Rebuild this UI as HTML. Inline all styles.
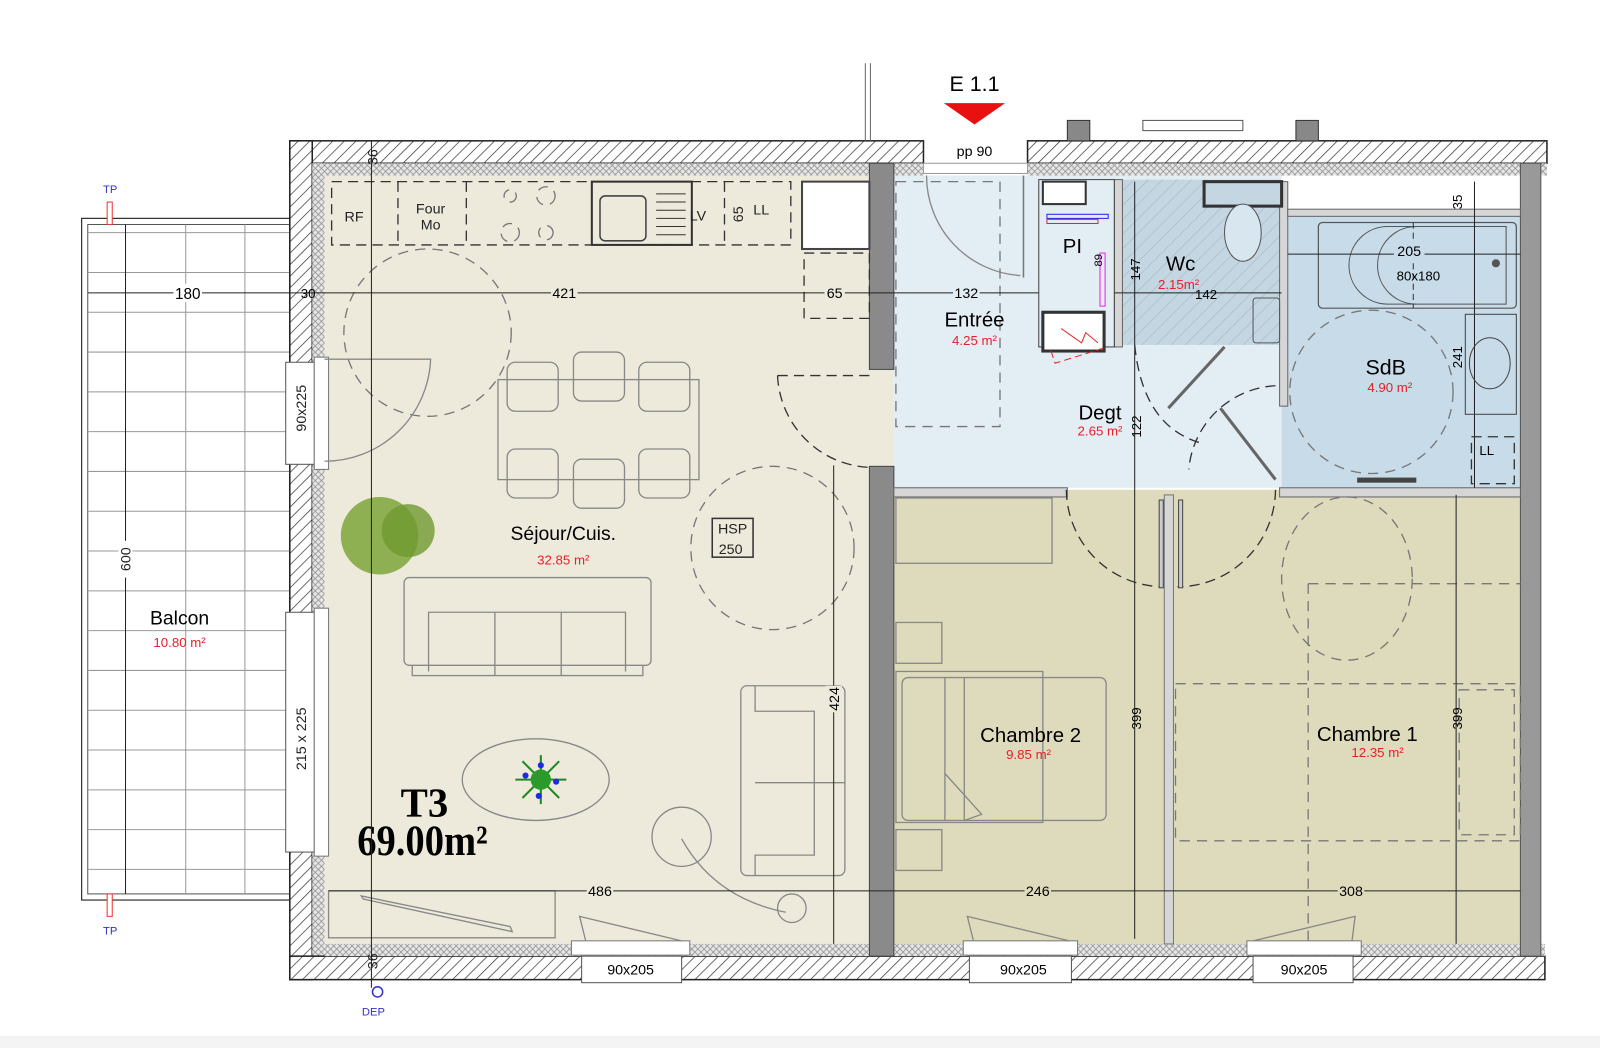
<!DOCTYPE html>
<html><head><meta charset="utf-8"><style>
html,body{margin:0;padding:0;background:#fff}
svg{display:block}
text{font-family:"Liberation Sans",sans-serif}
.d{font-size:14px;fill:#222}
.r{fill:#e8202a;font-size:13px}
.n{font-size:20px;fill:#111}
.f{fill:none;stroke:#888;stroke-width:1.3}
.ds{fill:none;stroke:#777;stroke-width:1.3;stroke-dasharray:10 7}
.dk{fill:none;stroke:#333;stroke-width:1.3;stroke-dasharray:10 6}
.dim{stroke:#222;stroke-width:1}
</style></head><body>
<svg width="1600" height="1048" viewBox="0 0 1568 1027" preserveAspectRatio="none" xmlns="http://www.w3.org/2000/svg">
<defs>
<pattern id="h" width="8" height="8" patternUnits="userSpaceOnUse" patternTransform="rotate(45)">
<rect width="8" height="8" fill="#fff"/><line x1="0" y1="0" x2="0" y2="8" stroke="#333" stroke-width="1.4"/></pattern>
<pattern id="x" width="6" height="6" patternUnits="userSpaceOnUse">
<rect width="6" height="6" fill="#e6e6e6"/><path d="M0 0L6 6M6 0L0 6" stroke="#888" stroke-width="0.7"/></pattern>
<pattern id="w" width="10" height="10" patternUnits="userSpaceOnUse" patternTransform="rotate(45)">
<rect width="10" height="10" fill="#c4d6e2"/><line x1="0" y1="0" x2="0" y2="10" stroke="#9fb2c0" stroke-width="1"/></pattern>
</defs>
<rect x="0" y="1015" width="1568" height="12" fill="#f4f4f4"/>

<!-- balcony -->
<rect x="80" y="214" width="204" height="668" fill="#fff" stroke="#333" stroke-width="1.2"/>
<rect x="86" y="220" width="198" height="656" fill="none" stroke="#555" stroke-width="1"/>
<g stroke="#999" stroke-width="1">
<line x1="182" y1="220" x2="182" y2="876"/><line x1="240" y1="220" x2="240" y2="876"/>
<line x1="86" y1="228" x2="284" y2="228"/><line x1="86" y1="267" x2="284" y2="267"/><line x1="86" y1="306" x2="284" y2="306"/><line x1="86" y1="345" x2="284" y2="345"/><line x1="86" y1="384" x2="284" y2="384"/><line x1="86" y1="423" x2="284" y2="423"/><line x1="86" y1="462" x2="284" y2="462"/><line x1="86" y1="501" x2="284" y2="501"/><line x1="86" y1="540" x2="284" y2="540"/><line x1="86" y1="579" x2="284" y2="579"/><line x1="86" y1="618" x2="284" y2="618"/><line x1="86" y1="657" x2="284" y2="657"/><line x1="86" y1="696" x2="284" y2="696"/><line x1="86" y1="735" x2="284" y2="735"/><line x1="86" y1="774" x2="284" y2="774"/><line x1="86" y1="813" x2="284" y2="813"/><line x1="86" y1="852" x2="284" y2="852"/>
</g>
<line x1="123" y1="220" x2="123" y2="876" class="dim" stroke-width="1.5"/>
<rect x="105" y="198" width="5" height="22" fill="#fff" stroke="#e33"/>
<rect x="105" y="876" width="5" height="22" fill="#fff" stroke="#e33"/>
<text x="108" y="189" font-size="11" fill="#33c" text-anchor="middle">TP</text>
<text x="108" y="916" font-size="11" fill="#33c" text-anchor="middle">TP</text>
<rect x="116" y="530" width="14" height="36" fill="#fff"/>
<text x="128" y="548" class="d" font-size="16" transform="rotate(-90 128 548)" text-anchor="middle">600</text>
<text x="176" y="612" font-size="19" text-anchor="middle">Balcon</text>
<text x="176" y="634" class="r" text-anchor="middle">10.80 m²</text>

<!-- floor fills -->
<rect x="318" y="172" width="536" height="754" fill="#edeadb"/>
<rect x="876" y="172" width="380" height="306" fill="#e3edf4"/>
<rect x="1256" y="210" width="234" height="268" fill="#c8dbe8"/>
<rect x="1100" y="176" width="156" height="162" fill="url(#w)"/>
<rect x="876" y="480" width="614" height="446" fill="#dedbbc"/>
<rect x="854" y="362" width="22" height="95" fill="#edeadb"/>

<!-- outer walls -->
<rect x="284" y="138" width="621" height="22" fill="url(#h)" stroke="#222" stroke-width="1.5"/>
<rect x="1007" y="138" width="509" height="22" fill="url(#h)" stroke="#222" stroke-width="1.5"/>
<rect x="306" y="160" width="599" height="12" fill="url(#x)"/>
<rect x="1007" y="160" width="509" height="12" fill="url(#x)"/>
<rect x="284" y="138" width="22" height="822" fill="url(#h)" stroke="#222" stroke-width="1.5"/>
<rect x="306" y="160" width="12" height="778" fill="url(#x)"/>
<rect x="284" y="937" width="1230" height="23" fill="url(#h)" stroke="#222" stroke-width="1.5"/>
<rect x="318" y="925" width="1196" height="12" fill="url(#x)"/>
<rect x="1046" y="118" width="22" height="20" fill="#888" stroke="#333"/>
<rect x="1270" y="118" width="22" height="20" fill="#888" stroke="#333"/>
<rect x="1120" y="118" width="98" height="10" fill="#fff" stroke="#555"/>
<line x1="848" y1="62" x2="848" y2="138" stroke="#666" stroke-width="1"/><line x1="853" y1="62" x2="853" y2="138" stroke="#666"/>
<!-- interior walls -->
<rect x="852" y="160" width="24" height="202" fill="#8a8a8a" stroke="#444"/>
<rect x="852" y="457" width="24" height="480" fill="#8a8a8a" stroke="#444"/>
<rect x="1490" y="160" width="20" height="777" fill="#999" stroke="#555"/>
<rect x="876" y="478" width="170" height="9" fill="#d6d6d6" stroke="#666"/>
<rect x="1254" y="478" width="236" height="9" fill="#d6d6d6" stroke="#666"/>
<rect x="1141" y="485" width="9" height="440" fill="#d6d6d6" stroke="#777"/>
<rect x="1092" y="176" width="8" height="164" fill="#d6d6d6" stroke="#666"/>
<rect x="1254" y="178" width="8" height="220" fill="#d6d6d6" stroke="#666"/>
<rect x="1262" y="205" width="228" height="7" fill="#d6d6d6" stroke="#666"/>
<rect x="786" y="178" width="66" height="66" fill="#fff" stroke="#444" stroke-width="2"/>
<!-- windows left -->
<rect x="280" y="355" width="28" height="100" fill="#fff" stroke="#555"/>
<rect x="308" y="350" width="14" height="110" fill="#fff" stroke="#777"/>
<text x="300" y="400" class="d" transform="rotate(-90 300 400)" text-anchor="middle">90x225</text>
<rect x="280" y="600" width="28" height="235" fill="#fff" stroke="#555"/>
<rect x="308" y="596" width="14" height="243" fill="#fff" stroke="#777"/>
<text x="300" y="724" class="d" transform="rotate(-90 300 724)" text-anchor="middle">215 x 225</text>
<!-- windows bottom -->
<g font-size="14" text-anchor="middle">
<rect x="570" y="937" width="98" height="26" fill="#fff" stroke="#555"/><rect x="560" y="922" width="116" height="14" fill="#fff" stroke="#777"/><text x="618" y="955">90x205</text>
<rect x="950" y="937" width="100" height="26" fill="#fff" stroke="#555"/><rect x="944" y="922" width="112" height="14" fill="#fff" stroke="#777"/><text x="1003" y="955">90x205</text>
<rect x="1228" y="937" width="98" height="26" fill="#fff" stroke="#555"/><rect x="1222" y="922" width="112" height="14" fill="#fff" stroke="#777"/><text x="1278" y="955">90x205</text>
</g>
<path d="M574 922L568 898L668 922" class="f" stroke="#444"/>
<path d="M954 922L948 898L1048 922" class="f" stroke="#444"/>
<path d="M1228 922L1328 898L1325 922" class="f" stroke="#444"/>

<!-- entrance -->
<text x="955" y="89" font-size="21" text-anchor="middle">E 1.1</text>
<path d="M925 101L985 101L955 122Z" fill="#e81010"/>
<text x="955" y="153" font-size="14" text-anchor="middle">pp 90</text>
<rect x="905" y="160" width="102" height="10" fill="#fff" stroke="#999"/>
<path d="M908 172 A98 98 0 0 0 1000 270" class="f"/>
<line x1="1003" y1="172" x2="1003" y2="272" stroke="#777" stroke-width="1.5"/>
<rect x="878" y="178" width="102" height="240" class="ds" stroke="#999"/>

<!-- kitchen -->
<rect x="325" y="178" width="450" height="62" class="dk"/>
<g class="dk"><line x1="390" y1="178" x2="390" y2="240"/><line x1="457" y1="178" x2="457" y2="240"/><line x1="710" y1="178" x2="710" y2="240"/></g>
<rect x="580" y="178" width="98" height="62" fill="none" stroke="#333" stroke-width="2"/>
<rect x="588" y="192" width="45" height="44" rx="5" fill="none" stroke="#444" stroke-width="1.5"/>
<g stroke="#333"><line x1="643" y1="190" x2="672" y2="190"/><line x1="643" y1="198" x2="672" y2="198"/><line x1="643" y1="206" x2="672" y2="206"/><line x1="643" y1="214" x2="672" y2="214"/><line x1="643" y1="222" x2="672" y2="222"/><line x1="643" y1="230" x2="672" y2="230"/></g>
<g class="ds"><circle cx="500" cy="192" r="6"/><circle cx="535" cy="192" r="9"/><circle cx="500" cy="228" r="9"/><circle cx="535" cy="228" r="7"/></g>
<text x="347" y="217" class="d" text-anchor="middle">RF</text>
<text x="422" y="209" class="d" text-anchor="middle">Four</text><text x="422" y="225" class="d" text-anchor="middle">Mo</text>
<text x="684" y="216" class="d" text-anchor="middle">LV</text>
<text x="746" y="210" class="d" text-anchor="middle">LL</text>
<text x="728" y="210" class="d" font-size="13" transform="rotate(-90 728 210)" text-anchor="middle">65</text>
<rect x="788" y="248" width="64" height="64" class="dk"/>
<circle cx="419" cy="326" r="82" class="ds" stroke="#999"/>
<path d="M318 452A104 104 0 0 0 422 352L318 352" class="f" stroke="#333"/>
<path d="M762 368L852 368M762 368A94 94 0 0 0 852 458" class="dk" stroke-dasharray="9 6"/>
<!-- dining -->
<rect x="488" y="372" width="197" height="98" class="f"/>
<g class="f"><rect x="497" y="355" width="50" height="48" rx="8"/><rect x="562" y="345" width="50" height="48" rx="8"/><rect x="626" y="355" width="50" height="48" rx="8"/><rect x="497" y="440" width="50" height="48" rx="8"/><rect x="562" y="450" width="50" height="48" rx="8"/><rect x="626" y="440" width="50" height="48" rx="8"/></g>
<circle cx="757" cy="537" r="80" class="ds" stroke="#999"/>
<rect x="698" y="508" width="40" height="38" fill="none" stroke="#333" stroke-width="1.5"/>
<text x="718" y="523" class="d" text-anchor="middle">HSP</text><text x="716" y="543" class="d" text-anchor="middle">250</text>
<!-- sofa -->
<rect x="396" y="566" width="242" height="86" rx="5" class="f"/>
<path d="M420 658V600H613V658M485 600V662M550 600V662M404 652V662H630V652" class="f"/>
<rect x="726" y="672" width="102" height="186" rx="6" class="f"/>
<path d="M740 672V697H798V838H740V858M740 767H828" class="f"/>
<ellipse cx="525" cy="764" rx="72" ry="40" class="f"/>
<g stroke="#1e8a1e" stroke-width="2"><line x1="505" y1="764" x2="555" y2="764"/><line x1="530" y1="740" x2="530" y2="788"/><line x1="512" y1="746" x2="548" y2="782"/><line x1="548" y1="746" x2="512" y2="782"/></g>
<circle cx="530" cy="764" r="10" fill="#2a9a2a"/>
<g fill="#1a2ee0"><circle cx="515" cy="760" r="3"/><circle cx="545" cy="766" r="3"/><circle cx="530" cy="750" r="3"/><circle cx="528" cy="780" r="3"/></g>
<circle cx="372" cy="525" r="38" fill="#7ea63a" opacity="0.85"/>
<circle cx="400" cy="520" r="26" fill="#6f9a30" opacity="0.8"/>
<circle cx="668" cy="820" r="29" class="f"/>
<circle cx="776" cy="890" r="14" class="f"/>
<path d="M668 822Q700 880 770 894" class="f"/>
<rect x="322" y="873" width="222" height="46" class="f"/>
<path d="M354 878L500 908L502 913L356 881Z" class="f"/>
<text x="552" y="529" font-size="19" text-anchor="middle">Séjour/Cuis.</text>
<text x="552" y="553" class="r" text-anchor="middle">32.85 m²</text>
<text x="416" y="800" style="font-family:'Liberation Serif',serif;font-weight:bold;font-size:40px" text-anchor="middle">T3</text>
<text x="414" y="838" style="font-family:'Liberation Serif',serif;font-weight:bold;font-size:42px" text-anchor="middle" transform="translate(414 0) scale(0.9 1) translate(-414 0)">69.00m²</text>
<!-- dims sejour -->
<line x1="364" y1="138" x2="364" y2="968" class="dim"/>
<text x="370" y="154" class="d" font-size="12" transform="rotate(-90 370 154)" text-anchor="middle">36</text>
<text x="370" y="942" class="d" font-size="12" transform="rotate(-90 370 942)" text-anchor="middle">36</text>
<circle cx="370" cy="972" r="5" fill="none" stroke="#33c" stroke-width="1.5"/>
<text x="366" y="995" font-size="11" fill="#33c" text-anchor="middle">DEP</text>
<line x1="86" y1="287" x2="1256" y2="287" class="dim"/>
<g font-size="15" text-anchor="middle"><rect x="170" y="278" width="28" height="18" fill="#fff"/><text x="184" y="293">180</text>
<text x="302" y="292" font-size="13">30</text>
<rect x="540" y="279" width="26" height="16" fill="#edeadb"/><text x="553" y="292" font-size="14">421</text>
<rect x="808" y="279" width="20" height="16" fill="#edeadb"/><text x="818" y="292" font-size="14">65</text>
<rect x="934" y="279" width="26" height="16" fill="#e3edf4"/><text x="947" y="292" font-size="14">132</text>
<rect x="1048" y="279" width="20" height="16" fill="#e3edf4"/><text x="1058" y="292" font-size="14">68</text>
</g>
<line x1="817" y1="456" x2="817" y2="925" class="dim"/>
<rect x="809" y="672" width="16" height="26" fill="#edeadb"/>
<text x="822" y="685" font-size="14" transform="rotate(-90 822 685)" text-anchor="middle">424</text>
<line x1="322" y1="873" x2="1490" y2="873" class="dim"/>
<rect x="575" y="865" width="26" height="16" fill="#edeadb"/><text x="588" y="878" font-size="14" text-anchor="middle">486</text>
<rect x="1004" y="865" width="26" height="16" fill="#dedbbc"/><text x="1017" y="878" font-size="14" text-anchor="middle">246</text>
<rect x="1311" y="865" width="26" height="16" fill="#dedbbc"/><text x="1324" y="878" font-size="14" text-anchor="middle">308</text>

<!-- PI / Wc -->
<rect x="1018" y="176" width="74" height="164" fill="#e3edf4" stroke="#444" stroke-width="1"/>
<rect x="1022" y="178" width="42" height="22" fill="#fff" stroke="#333" stroke-width="2"/>
<rect x="1022" y="306" width="60" height="38" fill="#fff" stroke="#333" stroke-width="3"/>
<path d="M1040 322L1060 336L1064 326L1076 336" stroke="#e22" fill="none"/>
<path d="M1030 344L1034 356L1085 340" stroke="#e22" fill="none" stroke-dasharray="7 4"/>
<rect x="1026" y="210" width="60" height="4" fill="none" stroke="#22e"/>
<rect x="1026" y="215" width="50" height="4" fill="none" stroke="#e22"/>
<rect x="1078" y="248" width="5" height="52" fill="none" stroke="#e2e"/>
<text x="1051" y="248" font-size="20" text-anchor="middle">PI</text>
<text x="1080" y="255" font-size="11" transform="rotate(-90 1080 255)" text-anchor="middle">89</text>
<rect x="1180" y="178" width="76" height="24" fill="#c4d6e2" stroke="#333" stroke-width="3"/>
<ellipse cx="1218" cy="228" rx="18" ry="28" fill="#d8e6ef" stroke="#555"/>
<rect x="1228" y="292" width="26" height="44" rx="3" fill="none" stroke="#555"/>
<text x="1157" y="265" font-size="20" text-anchor="middle">Wc</text>
<text x="1155" y="283" class="r" text-anchor="middle">2.15m²</text>
<text x="1182" y="293" font-size="13" text-anchor="middle">142</text>
<line x1="1112" y1="178" x2="1112" y2="920" class="dim"/>
<text x="1117" y="264" font-size="13" transform="rotate(-90 1117 264)" text-anchor="middle">147</text>
<text x="1118" y="418" font-size="13" transform="rotate(-90 1118 418)" text-anchor="middle">122</text>
<!-- Degt doors -->
<path d="M1112 338Q1120 420 1180 435" class="dk"/>
<line x1="1145" y1="400" x2="1200" y2="340" stroke="#666" stroke-width="3"/>
<path d="M1250 378A90 90 0 0 0 1165 460" class="dk"/>
<line x1="1196" y1="400" x2="1250" y2="470" stroke="#666" stroke-width="3"/>
<text x="1078" y="411" font-size="20" text-anchor="middle">Degt</text>
<text x="1078" y="427" class="r" text-anchor="middle">2.65 m²</text>
<text x="955" y="320" font-size="20" text-anchor="middle">Entrée</text>
<text x="955" y="338" class="r" text-anchor="middle">4.25 m²</text>

<!-- SdB -->
<rect x="1292" y="218" width="194" height="84" rx="4" fill="none" stroke="#555" stroke-width="1.2"/>
<path d="M1360 222H1476V298H1360A38 38 0 0 1 1360 222Z" fill="none" stroke="#555"/>
<path d="M1388 222A38 38 0 0 0 1388 298" fill="none" stroke="#555"/>
<line x1="1385" y1="218" x2="1385" y2="302" stroke="#333" stroke-dasharray="6 4"/>
<line x1="1262" y1="249" x2="1490" y2="249" class="dim"/>
<rect x="1366" y="238" width="30" height="18" fill="#c8dbe8"/>
<text x="1381" y="251" font-size="14" text-anchor="middle">205</text>
<text x="1390" y="275" font-size="13" text-anchor="middle">80x180</text>
<circle cx="1466" cy="258" r="4" fill="#555"/>
<line x1="1445" y1="178" x2="1445" y2="478" class="dim"/>
<text x="1433" y="198" font-size="13" transform="rotate(-90 1433 198)" text-anchor="middle">35</text>
<text x="1433" y="350" font-size="13" transform="rotate(-90 1433 350)" text-anchor="middle">241</text>
<rect x="1436" y="308" width="50" height="98" fill="none" stroke="#444"/>
<ellipse cx="1460" cy="356" rx="20" ry="25" fill="none" stroke="#444"/>
<rect x="1442" y="428" width="42" height="46" class="dk"/>
<text x="1457" y="446" font-size="13" text-anchor="middle">LL</text>
<circle cx="1344" cy="384" r="80" class="ds" stroke="#999"/>
<rect x="1330" y="468" width="58" height="5" fill="#444"/>
<text x="1358" y="367" font-size="21" text-anchor="middle">SdB</text>
<text x="1362" y="384" class="r" text-anchor="middle">4.90 m²</text>

<!-- chambres -->
<path d="M1045 480A96 96 0 0 0 1138 575" class="dk"/>
<path d="M1250 480A96 96 0 0 1 1154 575" class="dk"/>
<rect x="1136" y="490" width="4" height="86" fill="#ccc" stroke="#444"/>
<rect x="1155" y="490" width="4" height="86" fill="#ccc" stroke="#444"/>
<rect x="878" y="488" width="153" height="64" class="f"/>
<rect x="878" y="610" width="45" height="40" class="f"/><rect x="878" y="813" width="45" height="40" class="f"/>
<rect x="878" y="658" width="144" height="148" class="f" stroke="#999"/>
<rect x="884" y="664" width="200" height="140" rx="6" class="f"/>
<path d="M926 664V804M945 664V804M926 758L962 798L945 804" class="f"/>
<text x="1010" y="727" font-size="20" text-anchor="middle">Chambre 2</text>
<text x="1008" y="744" class="r" text-anchor="middle">9.85 m²</text>
<text x="1340" y="726" font-size="20" text-anchor="middle">Chambre 1</text>
<text x="1350" y="742" class="r" text-anchor="middle">12.35 m²</text>
<ellipse cx="1320" cy="567" rx="64" ry="80" class="ds" stroke="#999"/>
<rect x="1152" y="670" width="338" height="154" class="ds" stroke="#999"/>
<line x1="1282" y1="572" x2="1282" y2="925" class="ds" stroke="#999"/>
<line x1="1282" y1="572" x2="1490" y2="572" class="ds" stroke="#999"/>
<rect x="1430" y="676" width="54" height="142" class="ds" stroke="#999"/>
<line x1="1427" y1="485" x2="1427" y2="925" class="dim"/>
<text x="1433" y="704" font-size="13" transform="rotate(-90 1433 704)" text-anchor="middle">399</text>
<text x="1118" y="704" font-size="13" transform="rotate(-90 1118 704)" text-anchor="middle">399</text>
</svg>
</body></html>
